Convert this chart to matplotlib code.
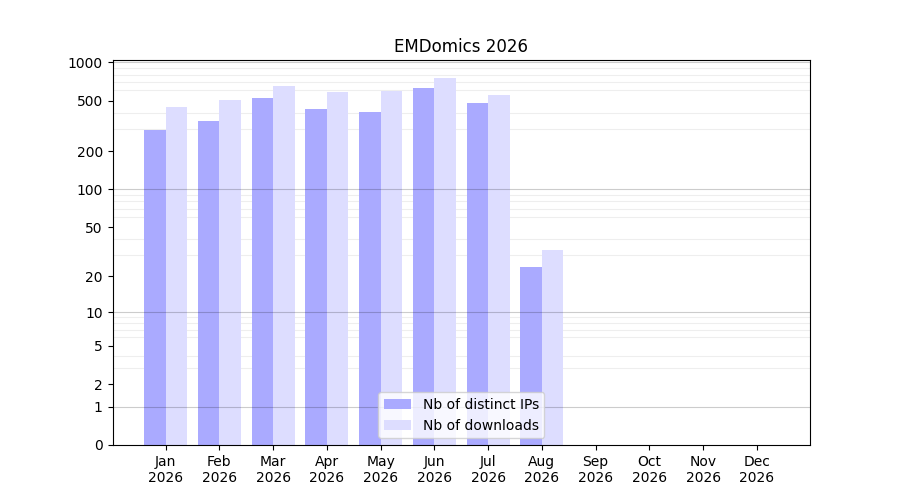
import numpy as np
import matplotlib
matplotlib.use('Agg')
import matplotlib.pyplot as plt
import matplotlib.ticker as ticker

months = ['Jan', 'Feb', 'Mar', 'Apr', 'May', 'Jun',
          'Jul', 'Aug', 'Sep', 'Oct', 'Nov', 'Dec']
year = 2026
distinct_ips = [294, 345, 523, 429, 407, 628, 478, 24, 0, 0, 0, 0]
downloads = [445, 505, 650, 583, 594, 751, 553, 33, 0, 0, 0, 0]
ytick_values = [0, 1, 2, 5, 10, 20, 50, 100, 200, 500, 1000]
decades = [1, 10, 100, 1000]


def forward(y):
    return np.log10(np.asarray(y) + 1.0)


def inverse(y):
    return 10.0 ** np.asarray(y) - 1.0


def main():
    fig, ax = plt.subplots(figsize=(9, 5), dpi=100)
    x = np.arange(len(months))
    width = 0.4

    ax.bar(x - width / 2, distinct_ips, width, color='#aaaaff',
           label='Nb of distinct IPs', zorder=2)
    ax.bar(x + width / 2, downloads, width, color='#ddddff',
           label='Nb of downloads', zorder=2)

    ax.set_yscale('function', functions=(forward, inverse))
    ax.set_ylim(0, 1040)
    ax.set_yticks(ytick_values)
    ax.set_yticklabels([str(v) for v in ytick_values])

    # light lines at 2..9 of each decade, darker lines at the decades
    minor = [m * d for d in decades[:-1] for m in range(2, 10)]
    ax.yaxis.set_minor_locator(ticker.FixedLocator(minor))
    ax.tick_params(axis='y', which='minor', length=0)
    ax.grid(which='minor', axis='y', color='#eeeeee', linewidth=0.8, zorder=1)
    for d in decades:
        ax.axhline(d, color='black', alpha=0.2, linewidth=0.8, zorder=3)

    ax.set_xticks(x)
    ax.set_xticklabels([f'{m}\n{year}' for m in months])
    ax.set_title(f'EMDomics {year}')
    ax.legend(loc='lower center')

    fig.savefig('out.png')


if __name__ == "__main__":
    main()
